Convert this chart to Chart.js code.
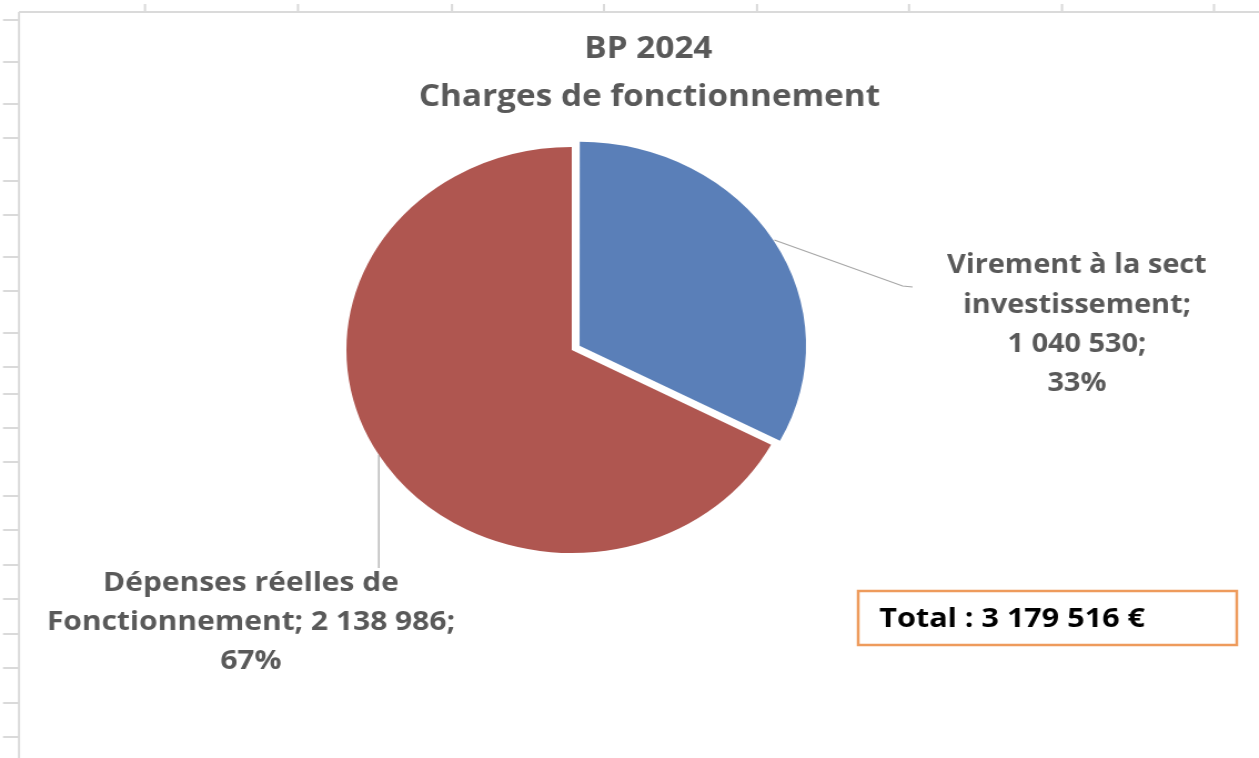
<!DOCTYPE html>
<html>
<head>
<meta charset="utf-8">
<script src="https://cdn.jsdelivr.net/npm/chart.js@4.4.1/dist/chart.umd.min.js"></script>
<style>
  html, body { margin: 0; padding: 0; background: #fff; overflow: hidden; }
  #wrap { width: 1134px; height: 758px; transform: scaleX(1.1102); transform-origin: 0 0; }
</style>
</head>
<body>
<div id="wrap"><canvas id="myChart" width="1134" height="758"></canvas></div>
<script>
const categories = ['Virement à la sect investissement', 'Dépenses réelles de Fonctionnement'];
const values = [1040530, 2138986];
const colors = ['#5A7FB8', '#AF5650'];
const titleLines = ['BP 2024', 'Charges de fonctionnement'];

const total = values.reduce((a, b) => a + b, 0);
const fmt = (n) => String(n).replace(/\B(?=(\d{3})+(?!\d))/g, ' ');
const pct = (v) => Math.round(v / total * 100) + '%';

// label wrapping as Excel shows it
const labelLines = [
  ['Virement à la sect', 'investissement;', fmt(values[0]) + ';', pct(values[0])],
  ['Dépenses réelles de', 'Fonctionnement; ' + fmt(values[1]) + ';', pct(values[1])]
];

const SX = 1.1102;
const topTicks = [145, 298, 452, 604, 757, 909, 1062, 1214];
const leftTicks = [20, 62, 104, 138, 181, 215, 257, 291, 333, 367, 394, 428, 462, 496, 530, 565, 599, 634, 668, 703, 737];

const decor = {
  id: 'decor',
  beforeDraw(chart) {
    const ctx = chart.ctx;
    ctx.save();
    ctx.strokeStyle = '#DADADA';
    ctx.lineWidth = 2;
    ctx.beginPath();
    ctx.moveTo(19 / SX, 12); ctx.lineTo(1259 / SX, 12);
    ctx.moveTo(19 / SX, 12); ctx.lineTo(19 / SX, 758);
    topTicks.forEach(x => { ctx.moveTo(x / SX, 4); ctx.lineTo(x / SX, 12); });
    leftTicks.forEach(y => { ctx.moveTo(3 / SX, y); ctx.lineTo(19 / SX, y); });
    ctx.stroke();
    ctx.restore();
  },
  afterDraw(chart) {
    const ctx = chart.ctx;
    const arcs = chart.getDatasetMeta(0).data;
    ctx.save();
    ctx.textAlign = 'center';
    ctx.textBaseline = 'middle';

    // title
    ctx.fillStyle = '#595959';
    ctx.font = 'bold 30px "Open Sans"';
    ctx.fillText(titleLines[0], 584, 49);
    ctx.fillText(titleLines[1], 585, 97);

    // leader lines from slice edge
    const edge = (arc, extra) => {
      const mid = (arc.startAngle + arc.endAngle) / 2;
      const r = arc.outerRadius + extra;
      return [arc.x + Math.cos(mid) * r, arc.y + Math.sin(mid) * r];
    };
    ctx.strokeStyle = '#A6A6A6';
    ctx.lineWidth = 1.2;
    let p = edge(arcs[0], 10);
    ctx.beginPath();
    ctx.moveTo(p[0], p[1]); ctx.lineTo(813, 286); ctx.lineTo(822, 287);
    ctx.stroke();
    p = edge(arcs[1], 0);
    ctx.beginPath();
    ctx.moveTo(p[0], p[1]); ctx.lineTo(p[0], 568);
    ctx.stroke();

    // data labels
    ctx.font = 'bold 26px "Open Sans"';
    labelLines[0].forEach((t, i) => ctx.fillText(t, 970, 266 + i * 39.3));
    ctx.font = 'bold 27px "Open Sans"';
    labelLines[1].forEach((t, i) => ctx.fillText(t, 226, 583 + i * 39));

    // total box
    ctx.strokeStyle = '#EE9B5C';
    ctx.lineWidth = 2.5;
    ctx.strokeRect(773, 591, 341, 54);
    ctx.fillStyle = '#000';
    ctx.textAlign = 'left';
    ctx.font = 'bold 27.5px "Open Sans"';
    ctx.fillText('Total : ' + fmt(total) + ' €', 792, 619);
    ctx.restore();
  }
};

new Chart(document.getElementById('myChart'), {
  type: 'pie',
  data: {
    labels: categories,
    datasets: [{
      data: values,
      backgroundColor: colors,
      borderWidth: 0,
      offset: [33, 0]
    }]
  },
  options: {
    responsive: false,
    animation: false,
    events: [],
    radius: 203,
    layout: { padding: { left: 0, right: 104, top: 0, bottom: 58 } },
    plugins: {
      legend: { display: false },
      title: { display: false },
      tooltip: { enabled: false }
    }
  },
  plugins: [decor]
});
</script>
</body>
</html>
